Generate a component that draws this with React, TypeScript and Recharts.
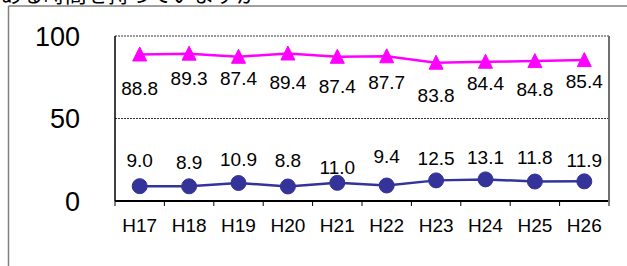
import React from "react";
import {
  LineChart,
  Line,
  XAxis,
  YAxis,
  CartesianGrid,
  LabelList,
} from "recharts";

// ---- data ----
const categories = ["H17", "H18", "H19", "H20", "H21", "H22", "H23", "H24", "H25", "H26"];
const magentaValues = [88.8, 89.3, 87.4, 89.4, 87.4, 87.7, 83.8, 84.4, 84.8, 85.4];
const blueValues = [9.0, 8.9, 10.9, 8.8, 11.0, 9.4, 12.5, 13.1, 11.8, 11.9];
const yTicks = [0, 50, 100];
const titleText = "ゆとりある時間を持っていますか";

// label placement tweaks (pixel offsets of label centre from point), style only
const magentaLabelDy = [34, 25, 21, 29, 29, 26, 33, 22, 28, 21];
const blueLabelDy = [-26, -24, -24, -26, -16, -29, -22, -22, -24, -21];

const data = categories.map((c, i) => ({
  cat: c,
  magenta: magentaValues[i],
  blue: blueValues[i],
}));

const FONT = "'Liberation Sans', Arial, sans-serif";

const fmt = (v: number) => v.toFixed(1);

const makeLabel = (offsets: number[]) => (props: any) => {
  const { x, y, value, index } = props;
  const dy = offsets[index] ?? 0;
  return (
    <text
      x={x}
      y={y + dy}
      dy="0.355em"
      textAnchor="middle"
      fontSize={19}
      fontFamily={FONT}
      fill="#000"
    >
      {fmt(Number(value))}
    </text>
  );
};

const Triangle = (props: any) => {
  const { cx, cy } = props;
  if (cx == null || cy == null) return null;
  const h = 13;
  const w = 14;
  return (
    <polygon
      points={`${cx},${cy - h / 2 - 1} ${cx - w / 2},${cy + h / 2} ${cx + w / 2},${cy + h / 2}`}
      fill="#FF00FF"
      stroke="#FF00FF"
    />
  );
};

const Circle = (props: any) => {
  const { cx, cy } = props;
  if (cx == null || cy == null) return null;
  return <circle cx={cx} cy={cy} r={7.5} fill="#333399" stroke="#333399" />;
};

const XTick = (props: any) => {
  const { x, y, payload, index, visibleTicksCount } = props;
  const half = payload && payload.offset ? payload.offset : 24.7;
  const isLast = index === (visibleTicksCount ?? categories.length) - 1;
  return (
    <g>
      <line x1={x - half} y1={y} x2={x - half} y2={y + 5} stroke="#000" strokeWidth={1} />
      {isLast && (
        <line x1={x + half} y1={y} x2={x + half} y2={y + 5} stroke="#000" strokeWidth={1} />
      )}
      <text
        x={x}
        y={y + 24}
        dy="0.355em"
        textAnchor="middle"
        fontSize={19}
        fontFamily={FONT}
        fill="#000"
      >
        {payload.value}
      </text>
    </g>
  );
};

export default function App() {
  return (
    <div
      style={{
        position: "absolute",
        left: 0,
        top: 0,
        width: 627,
        height: 266,
        background: "#fff",
        overflow: "hidden",
      }}
    >
      <div style={{ position: "absolute", left: 0, top: 0 }}>
        <LineChart
          width={627}
          height={266}
          data={data}
          margin={{ top: 36, right: 18, left: 0, bottom: 0 }}
        >
          <CartesianGrid
            vertical={false}
            horizontal={true}
            stroke="#333"
            strokeDasharray="2 1"
          />
          <XAxis
            dataKey="cat"
            scale="band"
            height={65}
            axisLine={{ stroke: "#000", strokeWidth: 2 }}
            tickLine={false}
            tickSize={0}
            tickMargin={0}
            tick={<XTick />}
            interval={0}
          />
          <YAxis
            domain={[0, 100]}
            ticks={yTicks}
            width={115}
            axisLine={{ stroke: "#000", strokeWidth: 1.5 }}
            tickLine={false}
            tickSize={0}
            tickMargin={35}
            tick={{ fontSize: 27, fontFamily: FONT, fill: "#000" }}
          />
          <Line
            dataKey="magenta"
            stroke="#FF00FF"
            strokeWidth={2.5}
            dot={<Triangle />}
            activeDot={false}
            isAnimationActive={false}
          >
            <LabelList dataKey="magenta" content={makeLabel(magentaLabelDy)} />
          </Line>
          <Line
            dataKey="blue"
            stroke="#333399"
            strokeWidth={2.5}
            dot={<Circle />}
            activeDot={false}
            isAnimationActive={false}
          >
            <LabelList dataKey="blue" content={makeLabel(blueLabelDy)} />
          </Line>
        </LineChart>
      </div>
      <svg
        width={627}
        height={266}
        style={{ position: "absolute", left: 0, top: 0, pointerEvents: "none" }}
      >
        <text
          x={-64}
          y={2}
          fontSize={21.5}
          fontFamily="'Noto Sans CJK JP', sans-serif"
          fill="#000"
        >
          {titleText}
        </text>
        <line x1={8.5} y1={6} x2={627} y2={6} stroke="#808080" strokeWidth={1.5} />
        <line x1={8.5} y1={6} x2={8.5} y2={266} stroke="#808080" strokeWidth={1.5} />
      </svg>
      <div
        style={{
          position: "absolute",
          left: 608,
          top: 36,
          width: 0,
          height: 166,
          borderLeft: "2px solid #707070",
        }}
      />
    </div>
  );
}
